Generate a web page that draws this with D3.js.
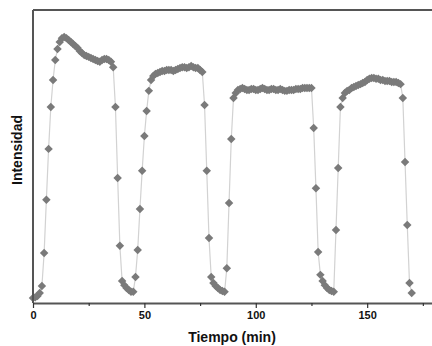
<!DOCTYPE html>
<html>
<head>
<meta charset="utf-8">
<script src="https://cdn.jsdelivr.net/npm/d3@7"></script>
<style>
  body { margin: 0; background: #fff; }
  text { font-family: "Liberation Sans", Arial, sans-serif; font-weight: bold; fill: #111; }
</style>
</head>
<body>
<div id="chart"></div>
<script>
// time (min)
const tiempo = [
  0,1,2,3,4,5,6,7,8,9,10,11,12,13,14,15,16,17,18,19,
  20,21,22,23,24,25,26,27,28,29,30,31,32,33,34,35,36,37,38,39,
  40,41,42,43,44,45,46,47,48,49,50,51,52,53,54,55,56,57,58,59,
  60,61,62,63,64,65,66,67,68,69,70,71,72,73,74,75,76,77,78,79,
  80,81,82,83,84,85,86,87,88,89,90,91,92,93,94,95,96,97,98,99,
  100,101,102,103,104,105,106,107,108,109,110,111,112,113,114,115,116,117,118,119,
  120,121,122,123,124,125,126,127,128,129,130,131,132,133,134,135,136,137,138,139,
  140,141,142,143,144,145,146,147,148,149,150,151,152,153,154,155,156,157,158,159,
  160,161,162,163,164,165,166,167,168,169,170
];

// intensity (a.u.)
const intensidad = [
  1.7,2.0,2.4,3.4,5.8,17.1,35.2,52.6,66.9,76.1,82.9,86.7,89.1,90.4,90.8,90.4,89.8,89.1,88.4,87.7,
  87.0,86.0,85.3,84.6,84.3,84.0,83.6,83.3,82.9,82.6,82.3,82.9,83.3,83.3,82.9,82.3,80.5,66.9,42.7,19.5,
  7.5,6.1,5.1,4.4,3.8,3.8,8.9,18.1,32.1,45.1,57.0,65.5,72.4,76.1,77.5,78.2,78.5,78.8,79.2,79.2,
  79.5,79.5,79.5,79.2,79.5,79.9,80.2,80.5,80.5,80.2,80.5,80.9,80.5,80.2,80.2,79.5,78.8,67.6,45.1,22.2,
  8.9,6.8,5.8,5.1,4.4,4.1,3.8,11.9,34.1,56.0,70.0,71.7,72.7,73.0,73.4,73.0,72.7,72.7,73.0,73.0,
  72.7,72.7,73.0,73.4,73.0,72.7,72.7,73.0,73.0,72.7,72.7,73.0,72.7,72.4,72.4,72.7,72.7,72.7,73.0,73.0,
  73.0,73.4,73.4,73.4,73.4,73.4,59.7,39.2,17.4,9.6,7.5,6.1,5.1,4.4,4.1,3.8,24.9,46.1,66.9,70.0,
  71.7,72.4,72.7,73.4,73.7,74.1,74.4,74.7,75.1,75.4,76.1,76.5,76.8,76.8,76.5,76.5,76.1,76.1,75.8,75.8,
  75.8,75.4,75.4,75.4,75.1,74.7,70.0,48.1,26.6,6.8,3.4
];

const majorTicks = [0, 50, 100, 150];
const minorTicks = [25, 75, 125, 175];

const W = 432, H = 346;
const margin = {top: 10, right: -2, bottom: 43, left: 33};

const data = tiempo.map((t, i) => ({t: t, v: intensidad[i]}));

const svg = d3.select("#chart").append("svg")
  .attr("width", W).attr("height", H);

const x = d3.scaleLinear().domain([0, 180]).range([margin.left, W - margin.right]);
const y = d3.scaleLinear().domain([0, 100]).range([H - margin.bottom, margin.top]);

// connecting line
svg.append("path")
  .datum(data)
  .attr("fill", "none")
  .attr("stroke", "#d2d2d2")
  .attr("stroke-width", 1.2)
  .attr("d", d3.line().x(d => x(d.t)).y(d => y(d.v)));

// diamonds
svg.append("g").selectAll("path")
  .data(data)
  .join("path")
    .attr("d", d3.symbol(d3.symbolSquare, 36))
    .attr("transform", d => `translate(${x(d.t)},${y(d.v)}) rotate(45)`)
    .attr("fill", "#7a7a7a");

// frame: top border
svg.append("line")
  .attr("x1", x(0)).attr("x2", x(180))
  .attr("y1", y(100)).attr("y2", y(100))
  .attr("stroke", "#555").attr("stroke-width", 2);

// left axis line
svg.append("line")
  .attr("x1", x(0)).attr("x2", x(0))
  .attr("y1", y(100)).attr("y2", y(0))
  .attr("stroke", "#555").attr("stroke-width", 2);

// x axis
const xAxis = svg.append("g")
  .attr("transform", `translate(0,${y(0)})`)
  .call(d3.axisBottom(x).tickValues(majorTicks).tickSize(5).tickSizeOuter(0).tickPadding(3));
xAxis.select(".domain").attr("stroke", "#555").attr("stroke-width", 2);
xAxis.selectAll(".tick line").attr("stroke", "#333").attr("stroke-width", 1.2);
xAxis.selectAll("text").style("font-size", "11px").attr("fill", "#111");

svg.append("g")
  .attr("transform", `translate(0,${y(0)})`)
  .call(d3.axisBottom(x).tickValues(minorTicks).tickSize(3).tickFormat(""))
  .call(g => g.select(".domain").remove())
  .selectAll(".tick line").attr("stroke", "#333").attr("stroke-width", 1.2);

// axis titles
svg.append("text")
  .attr("x", 232).attr("y", 342)
  .attr("text-anchor", "middle")
  .style("font-size", "14px")
  .text("Tiempo (min)");

svg.append("text")
  .attr("transform", "translate(22,150) rotate(-90)")
  .attr("text-anchor", "middle")
  .style("font-size", "14px")
  .text("Intensidad");
</script>
</body>
</html>
